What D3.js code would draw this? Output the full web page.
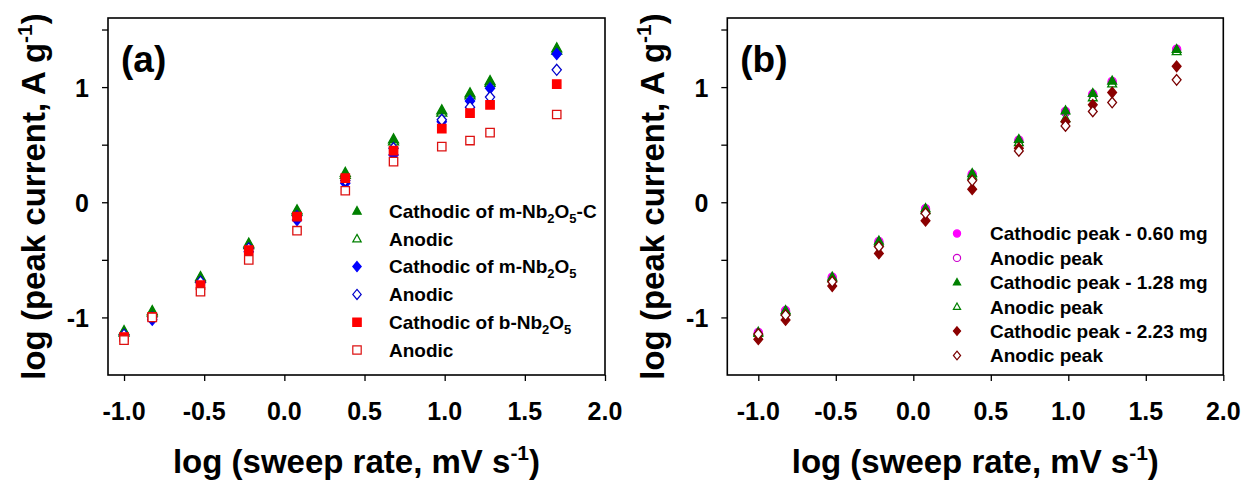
<!DOCTYPE html>
<html>
<head>
<meta charset="utf-8">
<script src="https://cdn.jsdelivr.net/npm/d3@7"></script>
<style>
  body { margin: 0; background: #fff; }
  text { font-family: "Liberation Sans", Arial, sans-serif; font-weight: bold; fill: #000; }
</style>
</head>
<body>
<svg id="chart" width="1248" height="483"></svg>
<script>
// log of sweep rate (mV/s), same for all series
var sweepLog = [-1.0, -0.824, -0.523, -0.222, 0.079, 0.380, 0.681, 0.982, 1.158, 1.283, 1.699];

// panel (a)
var cathMNbC = [-1.117, -0.943, -0.647, -0.357, -0.067, 0.257, 0.548, 0.800, 0.948, 1.055, 1.339];
var anodMNbC = [-1.130, -0.955, -0.660, -0.370, -0.080, 0.240, 0.530, 0.780, 0.930, 1.040, 1.320];
var cathMNb  = [-1.160, -1.020, -0.700, -0.430, -0.154, 0.165, 0.410, 0.700, 0.880, 0.990, 1.287];
var anodMNb  = [-1.150, -1.000, -0.690, -0.400, -0.120, 0.190, 0.470, 0.716, 0.826, 0.913, 1.150];
var cathBNb  = [-1.170, -0.995, -0.720, -0.415, -0.125, 0.209, 0.449, 0.640, 0.774, 0.846, 1.026];
var anodBNb  = [-1.197, -1.000, -0.777, -0.500, -0.247, 0.100, 0.353, 0.483, 0.536, 0.605, 0.762];

// panel (b)
var cath060 = [-1.130, -0.940, -0.650, -0.340, -0.055, 0.245, 0.540, 0.790, 0.940, 1.050, 1.330];
var anod060 = [-1.140, -0.950, -0.660, -0.350, -0.065, 0.235, 0.530, 0.780, 0.930, 1.040, 1.320];
var cath128 = [-1.125, -0.937, -0.647, -0.334, -0.052, 0.252, 0.548, 0.797, 0.948, 1.055, 1.330];
var anod128 = [-1.135, -0.950, -0.660, -0.350, -0.070, 0.230, 0.520, 0.730, 0.910, 1.030, 1.310];
var cath223 = [-1.190, -1.023, -0.728, -0.444, -0.160, 0.113, 0.470, 0.700, 0.846, 0.953, 1.180];
var anod223 = [-1.145, -0.980, -0.690, -0.386, -0.096, 0.188, 0.446, 0.663, 0.788, 0.866, 1.063];

var xTicks = [-1.0, -0.5, 0.0, 0.5, 1.0, 1.5, 2.0];
var yTicks = [-1, -0.5, 0, 0.5, 1, 1.5];
var yTickLabels = [-1, 0, 1];

var legendA = [
  ['Cathodic of m-Nb', '2', 'O', '5', '-C'],
  ['Anodic'],
  ['Cathodic of m-Nb', '2', 'O', '5'],
  ['Anodic'],
  ['Cathodic of b-Nb', '2', 'O', '5'],
  ['Anodic']
];
var legendB = [
  ['Cathodic peak - 0.60 mg'],
  ['Anodic peak'],
  ['Cathodic peak - 1.28 mg'],
  ['Anodic peak'],
  ['Cathodic peak - 2.23 mg'],
  ['Anodic peak']
];

var svg = d3.select('#chart');

function markerPath(shape, s) {
  if (shape == 'triangle') return 'M0,' + (-s * 1.05) + 'L' + s + ',' + (s * 0.75) + 'L' + (-s) + ',' + (s * 0.75) + 'Z';
  if (shape == 'diamond') return 'M0,' + (-s * 1.2) + 'L' + s + ',0L0,' + (s * 1.2) + 'L' + (-s) + ',0Z';
  if (shape == 'square') return 'M' + (-s) + ',' + (-s) + 'H' + s + 'V' + s + 'H' + (-s) + 'Z';
  return 'M' + s + ',0A' + s + ',' + s + ' 0 1,1 ' + (-s) + ',0A' + s + ',' + s + ' 0 1,1 ' + s + ',0Z';
}

var panels = [
  {
    label: '(a)', left: 108, right: 605, xDomain: [-1.1, 2.0],
    series: [
      { values: cathMNbC, shape: 'triangle', fill: '#008000', stroke: '#008000', size: 5 },
      { values: anodMNbC, shape: 'triangle', fill: '#fff', stroke: '#008000', size: 5 },
      { values: cathMNb, shape: 'diamond', fill: '#0000ff', stroke: '#0000ff', size: 4.6 },
      { values: anodMNb, shape: 'diamond', fill: '#fff', stroke: '#0000cc', size: 4.6 },
      { values: cathBNb, shape: 'square', fill: '#ff0000', stroke: '#ff0000', size: 4.2 },
      { values: anodBNb, shape: 'square', fill: '#fff', stroke: '#dd1111', size: 4.2 }
    ],
    drawOrder: [1, 0, 2, 3, 4, 5],
    legend: legendA, legendX: 357, legendTextX: 389, legendY: 211, legendStep: 27.8, legendSize: 4.2
  },
  {
    label: '(b)', left: 727.3, right: 1223.3, xDomain: [-1.2, 2.0],
    series: [
      { values: cath060, shape: 'circle', fill: '#ff00ff', stroke: '#ff00ff', size: 4 },
      { values: anod060, shape: 'circle', fill: '#fff', stroke: '#cc00cc', size: 4 },
      { values: cath128, shape: 'triangle', fill: '#008000', stroke: '#008000', size: 4.4 },
      { values: anod128, shape: 'triangle', fill: '#fff', stroke: '#008000', size: 4.4 },
      { values: cath223, shape: 'diamond', fill: '#8b0000', stroke: '#8b0000', size: 4.4 },
      { values: anod223, shape: 'diamond', fill: '#fff', stroke: '#7a0000', size: 4.4 }
    ],
    drawOrder: [1, 0, 3, 2, 4, 5],
    legend: legendB, legendX: 957, legendTextX: 990, legendY: 233.5, legendStep: 24.4, legendSize: 3.6
  }
];

var plotTop = 18, plotBottom = 375;

panels.forEach(function(p) {
  var x = d3.scaleLinear().domain(p.xDomain).range([p.left, p.right]);
  var y = d3.scaleLinear().domain([-1.5, 1.6]).range([plotBottom, plotTop]);
  var g = svg.append('g');

  // axes
  g.append('g').attr('transform', 'translate(0,' + plotBottom + ')')
    .call(d3.axisBottom(x).tickValues(xTicks).tickSize(6).tickFormat(''))
    .call(function(a) { a.select('.domain').remove(); a.selectAll('line').attr('stroke', '#000').attr('stroke-width', 1.3); });
  g.append('g').attr('transform', 'translate(' + p.left + ',0)')
    .call(d3.axisLeft(y).tickValues(yTicks).tickSize(6).tickFormat(''))
    .call(function(a) { a.select('.domain').remove(); a.selectAll('line').attr('stroke', '#000').attr('stroke-width', 1.3); });

  g.selectAll('.xlab').data(xTicks).enter().append('text')
    .attr('x', function(d) { return x(d); }).attr('y', 420)
    .attr('text-anchor', 'middle').style('font-size', '25px')
    .text(function(d) { return d3.format('.1f')(d).replace('\u2212', '-'); });
  g.selectAll('.ylab').data(yTickLabels).enter().append('text')
    .attr('x', p.left - 19).attr('y', function(d) { return y(d); }).attr('dy', '0.4em')
    .attr('text-anchor', 'end').style('font-size', '25px')
    .text(function(d) { return d; });

  // frame
  g.append('rect').attr('x', p.left).attr('y', plotTop)
    .attr('width', p.right - p.left).attr('height', plotBottom - plotTop)
    .attr('fill', 'none').attr('stroke', '#000').attr('stroke-width', 1.6);

  // markers
  p.drawOrder.forEach(function(si) {
    var s = p.series[si];
    g.append('g').selectAll('path').data(s.values).enter().append('path')
      .attr('transform', function(d, i) { return 'translate(' + x(sweepLog[i]) + ',' + y(d) + ')'; })
      .attr('d', markerPath(s.shape, s.size))
      .attr('fill', s.fill).attr('stroke', s.stroke).attr('stroke-width', 1.3);
  });

  // legend
  p.legend.forEach(function(parts, i) {
    var s = p.series[i];
    var ly = p.legendY + i * p.legendStep;
    g.append('path').attr('transform', 'translate(' + p.legendX + ',' + ly + ')')
      .attr('d', markerPath(s.shape, p.legendSize))
      .attr('fill', s.fill).attr('stroke', s.stroke).attr('stroke-width', 1.2);
    var t = g.append('text').attr('x', p.legendTextX).attr('y', ly).attr('dy', '0.36em').style('font-size', '19px');
    parts.forEach(function(part, k) {
      var isSub = (k % 2 == 1);
      var ts = t.append('tspan').text(part);
      if (isSub) ts.attr('dy', 5).style('font-size', '13px');
      else if (k > 0) ts.attr('dy', -5);
    });
  });

  // panel label
  g.append('text').attr('x', p.left + 13).attr('y', 72).style('font-size', '37px').text(p.label);

  // axis titles
  var xt = g.append('text').attr('x', (p.left + p.right) / 2).attr('y', 473)
    .attr('text-anchor', 'middle').style('font-size', '33px');
  xt.append('tspan').text('log (sweep rate, mV s');
  xt.append('tspan').attr('dy', -13).style('font-size', '21px').text('-1');
  xt.append('tspan').attr('dy', 13).text(')');

  var yt = g.append('g').attr('transform', 'translate(' + (p.left - 63) + ',' + ((plotTop + plotBottom) / 2) + ')')
    .append('text').attr('text-anchor', 'middle').attr('transform', 'rotate(-90)').style('font-size', '33px');
  yt.append('tspan').text('log (peak current, A g');
  yt.append('tspan').attr('dy', -13).style('font-size', '21px').text('-1');
  yt.append('tspan').attr('dy', 13).text(')');
});
</script>
</body>
</html>
